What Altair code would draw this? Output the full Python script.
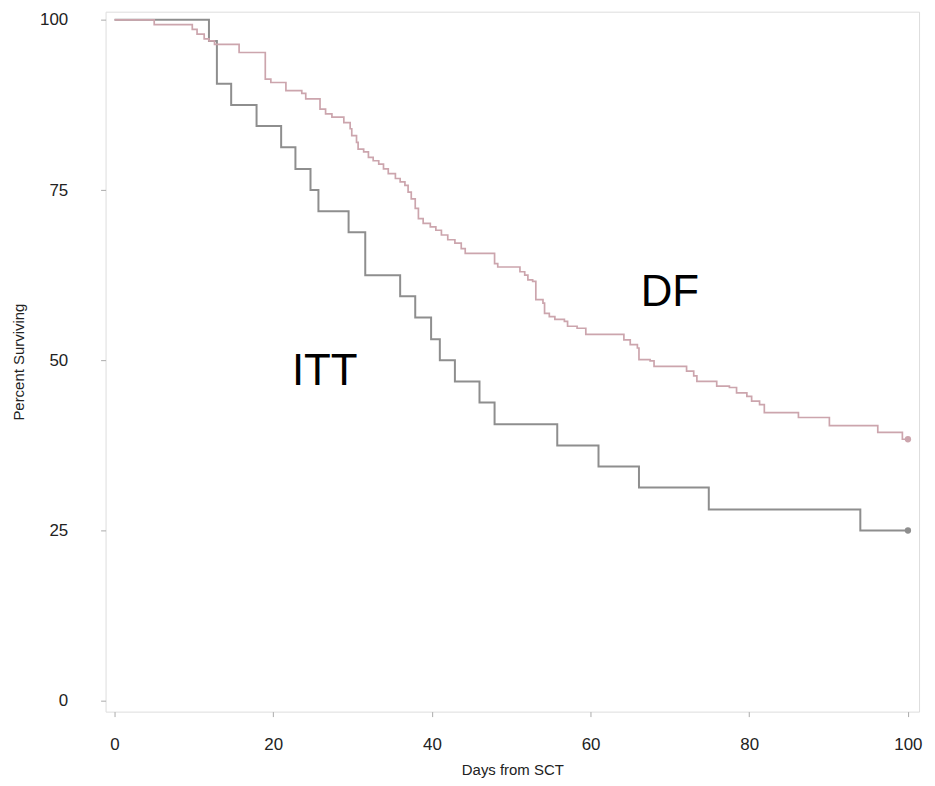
import altair as alt
import pandas as pd

# ITT Kaplan-Meier curve (day, percent surviving after the step)
itt_days = [0, 11.9, 12.9, 14.7, 17.9, 21.0, 22.8, 24.7, 25.7, 29.5, 31.6, 36.0, 37.9,
            39.9, 41.0, 42.9, 46.0, 47.9, 55.8, 61.0, 66.1, 74.9, 94.0, 100]
itt_pct = [100, 96.9, 90.6, 87.5, 84.4, 81.3, 78.1, 75.0, 71.9, 68.8, 62.5, 59.4, 56.3,
           53.1, 50.0, 46.9, 43.8, 40.6, 37.5, 34.4, 31.3, 28.1, 25.0, 25.0]

# DF Kaplan-Meier curve
df_days = [0, 5.0, 9.8, 10.4, 11.3, 11.9, 12.6, 15.7, 19.0, 19.7, 21.6, 23.6, 24.1, 25.9,
           26.6, 27.4, 28.9, 29.7, 29.9, 30.5, 30.7, 31.4, 32.0, 32.6, 33.3, 33.9, 34.5,
           35.4, 36.0, 36.6, 37.0, 37.4, 37.9, 38.3, 38.9, 39.8, 40.5, 41.2, 42.0, 42.9,
           43.7, 44.2, 47.9, 48.3, 51.1, 51.7, 52.1, 52.7, 53.1, 54.0, 54.2, 54.8, 55.5,
           56.7, 57.1, 58.3, 59.4, 64.2, 65.0, 65.9, 66.1, 67.5, 68.0, 72.1, 73.0, 73.4,
           75.9, 77.5, 78.4, 79.7, 80.3, 81.3, 81.9, 86.2, 90.1, 96.2, 99.3, 100]
df_pct = [100, 99.3, 98.6, 97.9, 97.2, 96.9, 96.4, 95.2, 91.3, 90.8, 89.6, 89.2, 88.4, 86.9,
          86.2, 85.7, 84.9, 84.0, 83.0, 82.0, 81.0, 80.6, 79.8, 79.3, 78.8, 78.1, 77.4,
          76.7, 76.2, 75.7, 74.7, 73.7, 72.3, 70.8, 70.1, 69.6, 69.1, 68.4, 67.7, 67.2,
          66.4, 65.7, 64.2, 63.7, 63.0, 62.5, 61.8, 61.6, 58.9, 58.4, 56.9, 56.4, 56.0,
          55.7, 55.0, 54.7, 53.8, 53.0, 52.3, 51.8, 50.1, 49.9, 49.1, 48.4, 47.7, 46.9,
          46.2, 46.0, 45.2, 44.7, 44.0, 43.5, 42.3, 41.6, 40.4, 39.4, 38.4, 38.4]

# Curve labels
label_text = ["DF", "ITT"]
label_day = [70.0, 26.5]
label_pct = [59.9, 48.3]

x_ticks = [0, 20, 40, 60, 80, 100]
y_ticks = [0, 25, 50, 75, 100]

series_names = ["ITT", "DF"]
series_colors = ["#8e8e8e", "#cca5ad"]

itt = pd.DataFrame({"day": itt_days, "pct": itt_pct, "group": "ITT"})
dff = pd.DataFrame({"day": df_days, "pct": df_pct, "group": "DF"})
ends = pd.DataFrame({"day": [itt_days[-1], df_days[-1]],
                     "pct": [itt_pct[-1], df_pct[-1]],
                     "group": ["ITT", "DF"]})
labels = pd.DataFrame({"day": label_day, "pct": label_pct, "text": label_text})

xs = alt.Scale(domain=[-1.13, 101.4], nice=False, zero=False)
ys = alt.Scale(domain=[-1.6, 101.2], nice=False, zero=False)
cs = alt.Scale(domain=series_names, range=series_colors)

x_enc = alt.X("day:Q", scale=xs, title="Days from SCT",
              axis=alt.Axis(values=x_ticks, grid=False, domain=False, tickSize=5,
                            tickColor="#aaaaaa", labelPadding=20, labelFontSize=17,
                            labelColor="#222222", titleFontSize=15, titleFontWeight="normal",
                            titleColor="#222222", titlePadding=10, labelFont="Liberation Sans",
                            titleFont="Liberation Sans"))
y_enc = alt.Y("pct:Q", scale=ys, title="Percent Surviving",
              axis=alt.Axis(values=y_ticks, grid=False, domain=False, tickSize=5,
                            tickColor="#aaaaaa", labelPadding=33, labelFontSize=17,
                            labelColor="#222222", titleFontSize=15, titleFontWeight="normal",
                            titleColor="#222222", titlePadding=13, labelFont="Liberation Sans",
                            titleFont="Liberation Sans"))

itt_line = alt.Chart(itt).mark_line(interpolate="step-after", strokeWidth=2).encode(
    x=x_enc, y=y_enc, color=alt.Color("group:N", scale=cs, legend=None))
df_line = alt.Chart(dff).mark_line(interpolate="step-after", strokeWidth=1.7).encode(
    x="day:Q", y="pct:Q", color=alt.Color("group:N", scale=cs, legend=None))
pts = alt.Chart(ends).mark_circle(size=40, opacity=1).encode(
    x="day:Q", y="pct:Q", color=alt.Color("group:N", scale=cs, legend=None))
txt = alt.Chart(labels).mark_text(fontSize=44, font="Liberation Sans", color="#000000",
                                  align="center", baseline="middle").encode(
    x="day:Q", y="pct:Q", text="text:N")

chart = alt.layer(itt_line, df_line, pts, txt).properties(
    width=817, height=703,
    padding={"left": 3, "top": 1, "right": 4, "bottom": 0},
).configure_view(stroke="#a3a3a3", strokeWidth=3).configure(background="white")

chart.save("out.html", embed_options={"renderer": "svg", "actions": False})
